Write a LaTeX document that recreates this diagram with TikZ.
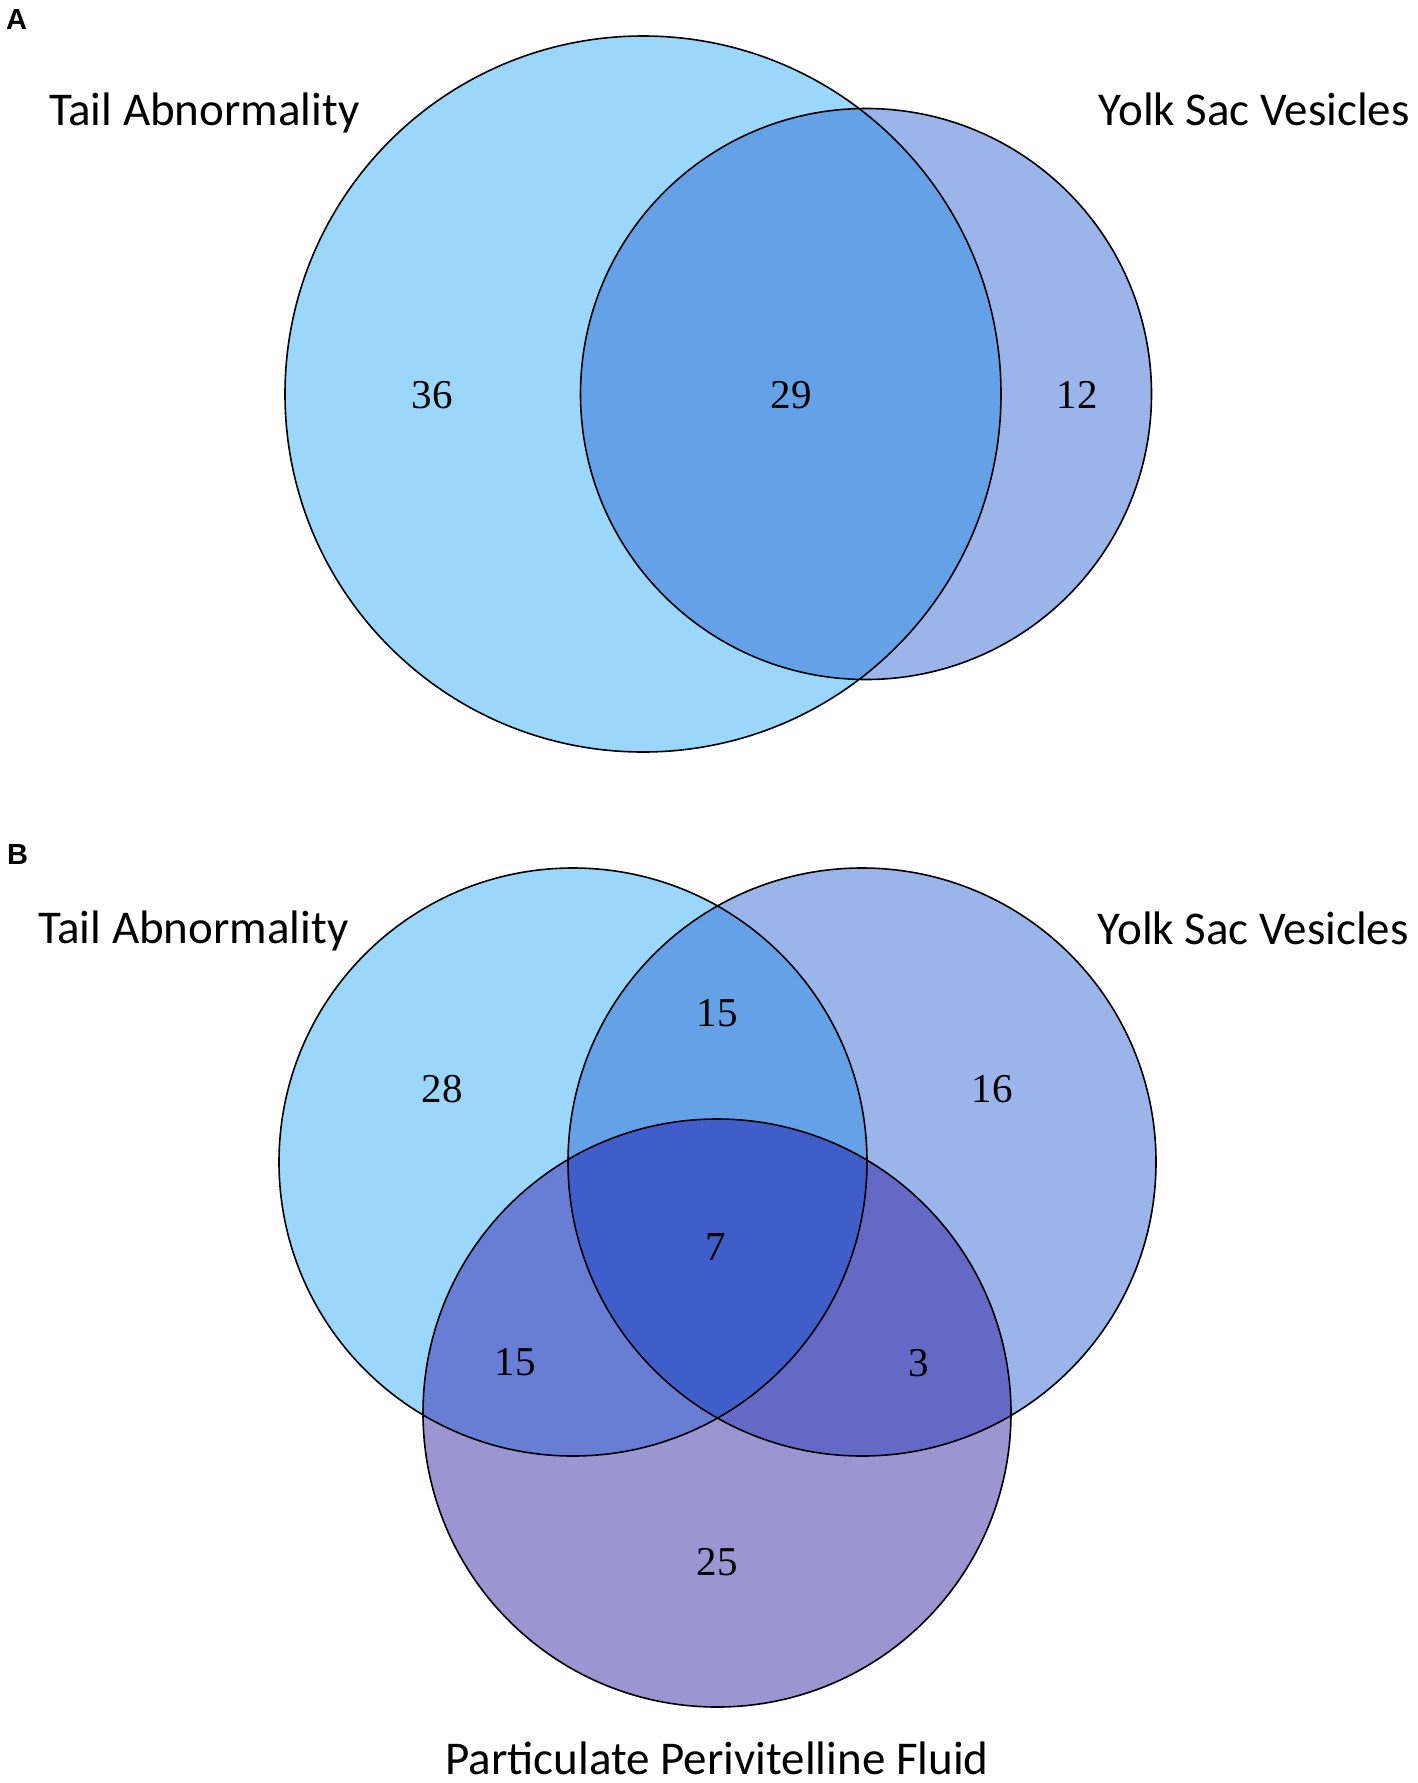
\documentclass[tikz,border=0pt]{standalone}
\usepackage{fontspec}
\setmainfont{Liberation Serif}
\newfontfamily\labfont{Carlito}
\newfontfamily\panfont{Liberation Sans Bold}
\definecolor{tailc}{HTML}{9AD7FB}
\definecolor{yolkc}{HTML}{9BB5EA}
\definecolor{partc}{HTML}{9B96D1}
\definecolor{tyc}{HTML}{64A1E6}
\definecolor{tpc}{HTML}{677ED4}
\definecolor{ypc}{HTML}{6369C5}
\definecolor{typc}{HTML}{405ECA}
\tikzset{
  setlabel/.style={inner sep=0pt, font=\labfont\fontsize{47}{47}\selectfont},
  countlabel/.style={inner sep=0pt, anchor=center, font=\fontsize{41}{41}\selectfont},
  panellabel/.style={inner sep=0pt, anchor=base west, font=\panfont\fontsize{29}{29}\selectfont},
  outline/.style={draw=black, line width=1.6pt}
}
\begin{document}
\begin{tikzpicture}[x=1pt,y=-1pt]
\useasboundingbox (0,0) rectangle (1418,1783);
% ---------- Panel A ----------
\coordinate (aT) at (643,394);
\coordinate (aY) at (866,394);
\fill[tailc] (aT) circle[radius=358];
\fill[yolkc] (aY) circle[radius=285.5];
\begin{scope}
  \clip (aT) circle[radius=358];
  \fill[tyc] (aY) circle[radius=285.5];
\end{scope}
\draw[outline] (aT) circle[radius=358];
\draw[outline] (aY) circle[radius=285.5];
\node[panellabel] (pA) at (6,29) {A};
\node[setlabel, anchor=base west] (laT) at (49,125) {Tail Abnormality};
\node[setlabel, anchor=base east] (laY) at (1410,125) {Yolk Sac Vesicles};
\node[countlabel] (a36) at (432,395) {36};
\node[countlabel] (a29) at (791,395) {29};
\node[countlabel] (a12) at (1077,395) {12};
% ---------- Panel B ----------
\coordinate (bT) at (573,1162);
\coordinate (bY) at (862,1162);
\coordinate (bP) at (717,1413);
\def\rB{294}
\fill[tailc] (bT) circle[radius=\rB];
\fill[yolkc] (bY) circle[radius=\rB];
\fill[partc] (bP) circle[radius=\rB];
\begin{scope}
  \clip (bT) circle[radius=\rB];
  \fill[tyc] (bY) circle[radius=\rB];
  \fill[tpc] (bP) circle[radius=\rB];
\end{scope}
\begin{scope}
  \clip (bY) circle[radius=\rB];
  \fill[ypc] (bP) circle[radius=\rB];
\end{scope}
\begin{scope}
  \clip (bT) circle[radius=\rB];
  \clip (bY) circle[radius=\rB];
  \fill[typc] (bP) circle[radius=\rB];
\end{scope}
\draw[outline] (bT) circle[radius=\rB];
\draw[outline] (bY) circle[radius=\rB];
\draw[outline] (bP) circle[radius=\rB];
\node[panellabel] (pB) at (7,864) {B};
\node[setlabel, anchor=base west] (lbT) at (38,943) {Tail Abnormality};
\node[setlabel, anchor=base east] (lbY) at (1409,944) {Yolk Sac Vesicles};
\node[setlabel, anchor=base] (lbP) at (717,1774) {Particulate Perivitelline Fluid};
\node[countlabel] (b15a) at (717,1013) {15};
\node[countlabel] (b28) at (442,1089) {28};
\node[countlabel] (b16) at (992,1089) {16};
\node[countlabel] (b7) at (716,1247) {7};
\node[countlabel] (b15b) at (515,1362) {15};
\node[countlabel] (b3) at (919,1363) {3};
\node[countlabel] (b25) at (717,1562) {25};
\end{tikzpicture}
\end{document}
